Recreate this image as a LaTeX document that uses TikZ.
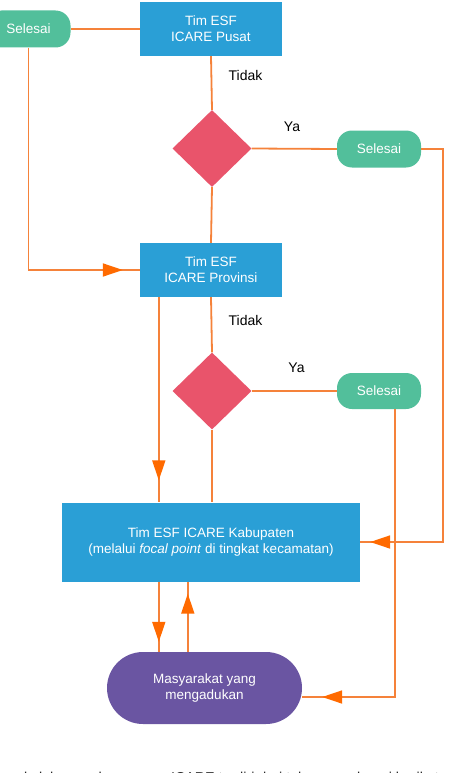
\documentclass[tikz,border=0pt]{standalone}
\usepackage{fontspec}
\setmainfont{Liberation Sans}
\usetikzlibrary{shapes.geometric,arrows.meta,decorations.markings,calc}
\definecolor{boxblue}{HTML}{2A9FD6}
\definecolor{endgreen}{HTML}{52BF9B}
\definecolor{decred}{HTML}{E9546B}
\definecolor{userpurple}{HTML}{6A55A2}
\definecolor{lineorange}{HTML}{F5823A}
\definecolor{tiporange}{HTML}{FF6A00}
\tikzset{
  procbox/.style={rectangle, fill=boxblue, text=white, inner sep=0pt, align=center, font=\fontsize{13.5}{16}\selectfont},
  endbox/.style={rectangle, rounded corners=15pt, fill=endgreen, text=white, inner sep=0pt, minimum width=84pt, minimum height=37pt, font=\fontsize{13.5}{16}\selectfont},
  decbox/.style={diamond, fill=decred, inner sep=0pt, minimum width=79pt, minimum height=77pt},
  userbox/.style={rectangle, rounded corners=36pt, fill=userpurple, text=white, inner sep=0pt, minimum width=195pt, minimum height=72pt, align=center, font=\fontsize{13.5}{16}\selectfont},
  conn/.style={draw=lineorange, line width=1.8pt},
  lbl/.style={font=\fontsize{14}{16}\selectfont, text=black},
  tipat/.style={postaction={decorate}, decoration={markings, mark=at position #1 with {\arrow[tiporange]{Triangle[length=20pt,width=13pt]}}}}
}
\begin{document}
\begin{tikzpicture}[x=1pt,y=-1pt]
\useasboundingbox (0,0) rectangle (448,773);
\begin{scope}
\clip (0,0) rectangle (448,773);
% nodes
\node[procbox, minimum width=142pt, minimum height=54pt] (pusat) at (211,29) {Tim ESF\\ICARE Pusat};
\node[endbox] (s1) at (28.5,29) {Selesai};
\node[decbox] (d1) at (212,148.5) {};
\node[endbox] (s2) at (379,149) {Selesai};
\node[procbox, minimum width=142pt, minimum height=54pt] (prov) at (211,270) {Tim ESF\\ICARE Provinsi};
\node[decbox] (d2) at (212,391) {};
\node[endbox, minimum height=36pt] (s3) at (379,391) {Selesai};
\node[procbox, minimum width=298pt, minimum height=79pt] (kab) at (211,542) {Tim ESF ICARE Kabupaten\\(melalui \textit{focal point} di tingkat kecamatan)};
\node[userbox] (masy) at (204.5,688) {Masyarakat yang\\mengadukan};
% labels
\node[lbl] (t1) at (245.5,75) {Tidak};
\node[lbl] (y1) at (292,127) {Ya};
\node[lbl] (t2) at (245.5,320) {Tidak};
\node[lbl] (y2) at (296.5,368) {Ya};
\node[anchor=base west, inner sep=0pt, text=black!85, font=\fontsize{14.3}{16}\selectfont] (cap) at (-4,782) {aan keluhan pada program ICARE terdiri dari tahapan sebagai berikut};
% coordinates
\coordinate (r1) at (443,149);
\coordinate (r2) at (443,542);
\coordinate (pb) at ($(prov.south west)+(19,0)$);
\coordinate (kb1) at ($(kab.south west)+(97,0)$);
\coordinate (kb2) at ($(kab.south west)+(126,0)$);
\coordinate (s3b) at ($(s3.south)+(16,0)$);
\coordinate (me) at ($(masy.east)+(0,9)$);
% connectors
\draw[conn] (s1.east) -- (pusat.west);
\draw[conn, tipat=-17pt] (s1.south) |- (prov.west);
\draw[conn] (pusat.south) -- (d1.north);
\draw[conn] (d1.east) -- (s2.west);
\draw[conn] (d1.south) -- (prov.north);
\draw[conn, tipat=-10pt] (s2.east) -- (r1) -- (r2) -- (kab.east);
\draw[conn] (prov.south) -- (d2.north);
\draw[conn] (d2.east) -- (s3.west);
\draw[conn] (d2.south) -- (kab.north -| d2.south);
\draw[conn, tipat=-22pt] (pb) -- (pb |- kab.north);
\draw[conn, tipat=-10pt] (kb1) -- (kb1 |- masy.north);
\draw[conn, tipat=-12pt] (kb2 |- masy.north) -- (kb2);
\draw[conn, tipat=-20pt] (s3b) |- (me);
\end{scope}
\end{tikzpicture}
\end{document}
